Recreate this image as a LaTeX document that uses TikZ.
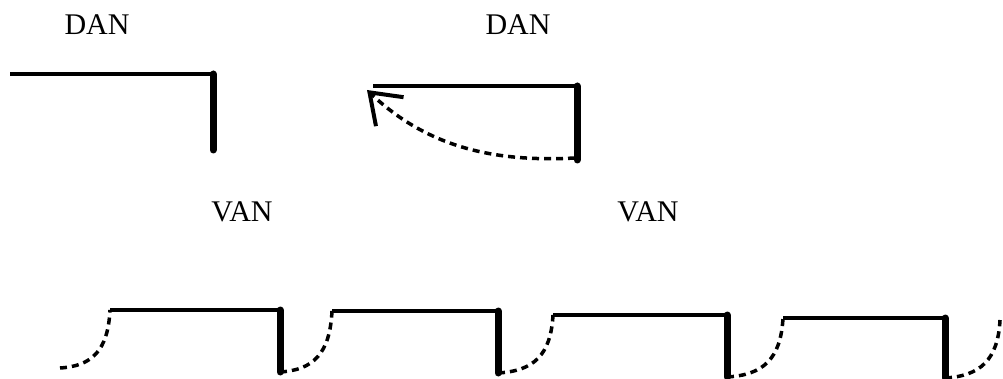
\documentclass[tikz,border=0pt]{standalone}
\usepackage{fontspec}
\setmainfont{Liberation Serif}
\usetikzlibrary{arrows.meta, positioning}

\begin{document}
\begin{tikzpicture}[x=1pt, y=-1pt,
    wall/.style={line width=4.5pt},
    jamb/.style={line width=7pt, line cap=round},
    swing/.style={line width=3.5pt, dash pattern=on 7pt off 5pt},
    lbl/.style={font=\fontsize{30}{36}\selectfont, anchor=base, inner sep=0pt}]
    \useasboundingbox (0,0) rectangle (1003,379);
    % labels
    \node[lbl] (dan1) at (97,35) {DAN};
    \node[lbl] (dan2) at (518,35) {DAN};
    \node[lbl] (van1) at (242,222) {VAN};
    \node[lbl] (van2) at (648,222) {VAN};
    % top left
    \draw[wall] (10,74) -- (215,74);
    \draw[jamb] (213,74) -- (213,150);
    % top right, with swing back
    \draw[wall] (373,86) -- (579,86);
    \draw[jamb] (577,86) -- (577,160);
    \draw[swing, -{Straight Barb[length=28pt, width=40pt, line width=4pt]}]
        (575,158) .. controls (500,162) and (430,150) .. (367,90);
    % bottom row
    \foreach \xa/\ya/\xb/\yb/\xc/\yc in {60/368/110/310/280/372, 280/372/332/311/498/373,
        498/373/553/315/727/377, 727/377/783/318/945/378} {
        \draw[swing] (\xa,\ya) .. controls ({\xa+0.64*(\xb-\xa)},\ya-2)
            and ({\xb-0.04*(\xb-\xa)},{\yb+0.7*(\ya-\yb)}) .. (\xb,\yb);
        \draw[wall] (\xb,\yb) -- (\xc+2,\yb);
        \draw[jamb] (\xc,\yb) -- (\xc,\yc);
    }
    \draw[swing] (945,378) .. controls (980,376) and (998,360) .. (1000,320);
\end{tikzpicture}
\end{document}
